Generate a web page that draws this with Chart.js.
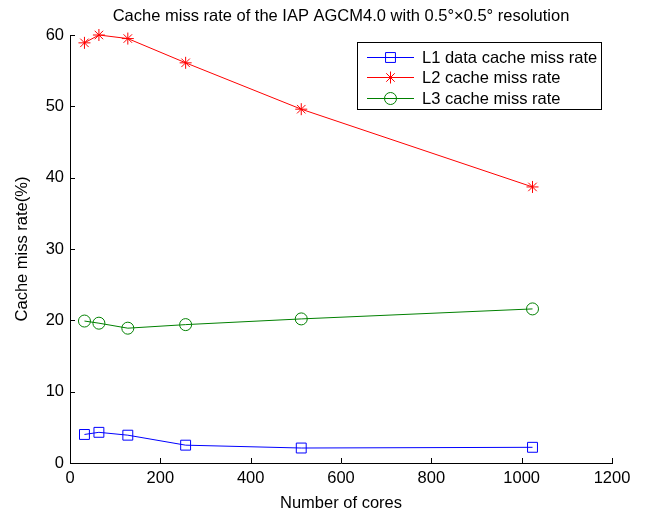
<!DOCTYPE html>
<html>
<head>
<meta charset="utf-8">
<script src="https://cdn.jsdelivr.net/npm/chart.js@4/dist/chart.umd.min.js"></script>
<style>
  html, body { margin: 0; padding: 0; background: #fff; }
  #wrap { width: 645px; height: 513px; }
</style>
</head>
<body>
<div id="wrap"><canvas id="chart" width="645" height="513"></canvas></div>
<script>
// values
var cores = [32, 64, 128, 256, 512, 1024];
var l1Rate = [4.0, 4.3, 3.9, 2.5, 2.1, 2.2];
var l2Rate = [58.9, 60.0, 59.5, 56.1, 49.6, 38.7];
var l3Rate = [19.9, 19.6, 18.9, 19.4, 20.2, 21.6];
var seriesNames = ['L1 data cache miss rate', 'L2 cache miss rate', 'L3 cache miss rate'];
var xTicks = [0, 200, 400, 600, 800, 1000, 1200];
var yTicks = [0, 10, 20, 30, 40, 50, 60];

var FONT = '"Liberation Sans", Arial, Helvetica, sans-serif';
var FS = 16.5;

function pts(vals) {
    return cores.map(function(c, i) { return { x: c, y: vals[i] }; });
}

// title, inward ticks and the boxed legend, MATLAB style
var matlabBits = {
    id: 'matlabBits',
    afterDraw: function(chart) {
        var ctx = chart.ctx;
        var xs = chart.scales.x, ys = chart.scales.y;
        var area = chart.chartArea;
        ctx.save();

        // title
        ctx.fillStyle = '#000';
        ctx.font = FS + 'px ' + FONT;
        ctx.textAlign = 'center';
        ctx.textBaseline = 'middle';
        ctx.fillText('Cache miss rate of the IAP AGCM4.0 with 0.5°×0.5° resolution', (area.left + area.right) / 2, 16);

        // ticks pointing inwards
        ctx.strokeStyle = '#000';
        ctx.lineWidth = 1;
        ctx.beginPath();
        xTicks.forEach(function(v) {
            var px = Math.round(xs.getPixelForValue(v)) + 0.5;
            ctx.moveTo(px, area.bottom);
            ctx.lineTo(px, area.bottom - 5);
        });
        yTicks.forEach(function(v) {
            var py = Math.round(ys.getPixelForValue(v)) + 0.5;
            ctx.moveTo(area.left, py);
            ctx.lineTo(area.left + 5, py);
        });
        ctx.stroke();

        // legend
        var bx = 357.5, by = 42.5, bw = 244, bh = 67;
        ctx.fillStyle = '#fff';
        ctx.fillRect(bx, by, bw, bh);
        ctx.strokeRect(bx, by, bw, bh);
        ctx.font = FS + 'px ' + FONT;
        ctx.textAlign = 'left';
        chart.data.datasets.forEach(function(ds, i) {
            var y = Math.round(57 + i * 20.4) + 0.5;
            ctx.strokeStyle = ds.borderColor;
            ctx.lineWidth = 1;
            ctx.beginPath();
            ctx.moveTo(367, y);
            ctx.lineTo(414, y);
            ctx.stroke();
            ctx.fillStyle = 'rgba(0,0,0,0)';
            Chart.helpers.drawPoint(ctx, {
                pointStyle: ds.pointStyle,
                radius: ds.pointRadius,
                borderWidth: 1
            }, 390.5, y);
            ctx.fillStyle = '#000';
            ctx.fillText(ds.label, 422, y + 0.5);
        });
        ctx.restore();
    }
};

var ctx = document.getElementById('chart').getContext('2d');
var chart = new Chart(ctx, {
    type: 'line',
    data: {
        datasets: [
            {
                label: seriesNames[0],
                data: pts(l1Rate),
                borderColor: '#0000ff',
                backgroundColor: 'rgba(0,0,0,0)',
                pointStyle: 'rect',
                pointRadius: 7
            },
            {
                label: seriesNames[1],
                data: pts(l2Rate),
                borderColor: '#ff0000',
                backgroundColor: 'rgba(0,0,0,0)',
                pointStyle: 'star',
                pointRadius: 6
            },
            {
                label: seriesNames[2],
                data: pts(l3Rate),
                borderColor: '#008000',
                backgroundColor: 'rgba(0,0,0,0)',
                pointStyle: 'circle',
                pointRadius: 6
            }
        ]
    },
    options: {
        responsive: false,
        animation: false,
        devicePixelRatio: 1,
        layout: { padding: { top: 35, right: 33, left: 0, bottom: 0 } },
        elements: {
            line: { borderWidth: 1, tension: 0, fill: false },
            point: { borderWidth: 1, hoverRadius: 6 }
        },
        datasets: { line: { clip: false } },
        plugins: {
            legend: { display: false },
            title: { display: false },
            tooltip: { enabled: false }
        },
        scales: {
            x: {
                type: 'linear',
                min: 0,
                max: 1200,
                afterBuildTicks: function(s) { s.ticks = xTicks.map(function(v) { return { value: v }; }); },
                afterFit: function(s) { s.height = 50; },
                grid: { display: false, drawTicks: false },
                border: { display: true, color: '#000', width: 1 },
                ticks: {
                    color: '#000', padding: 6, maxRotation: 0,
                    font: { family: FONT, size: FS },
                    callback: function(v) { return String(v); }
                },
                title: {
                    display: true,
                    text: 'Number of cores',
                    color: '#000',
                    padding: { top: 4, bottom: 0 },
                    font: { family: FONT, size: FS }
                }
            },
            y: {
                type: 'linear',
                min: 0,
                max: 60,
                afterBuildTicks: function(s) { s.ticks = yTicks.map(function(v) { return { value: v }; }); },
                afterFit: function(s) { s.width = 70; },
                grid: { display: false, drawTicks: false },
                border: { display: true, color: '#000', width: 1 },
                ticks: {
                    color: '#000', padding: 6,
                    font: { family: FONT, size: FS },
                    callback: function(v) { return String(v); }
                },
                title: {
                    display: true,
                    text: 'Cache miss rate(%)',
                    color: '#000',
                    padding: { top: 13, bottom: 0 },
                    font: { family: FONT, size: FS }
                }
            }
        }
    },
    plugins: [matlabBits]
});
</script>
</body>
</html>
